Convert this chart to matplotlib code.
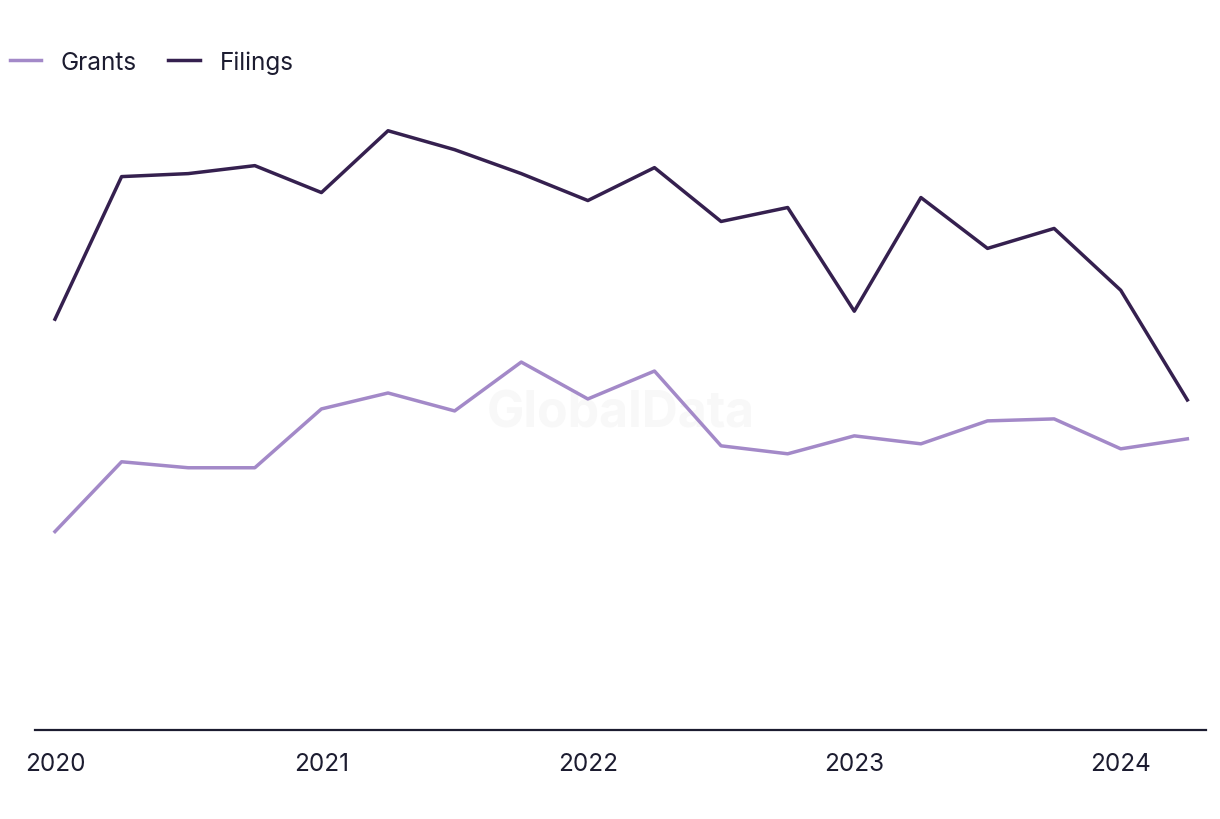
import matplotlib
matplotlib.use('Agg')
import matplotlib.pyplot as plt


QUARTERS = ['2020Q1', '2020Q2', '2020Q3', '2020Q4',
            '2021Q1', '2021Q2', '2021Q3', '2021Q4',
            '2022Q1', '2022Q2', '2022Q3', '2022Q4',
            '2023Q1', '2023Q2', '2023Q3', '2023Q4',
            '2024Q1', '2024Q2']
FILINGS = [412, 555, 558, 566, 539, 601, 582, 558, 531,
           564, 510, 524, 420, 534, 483, 503, 441, 331]
GRANTS = [199, 269, 263, 263, 322, 338, 320, 369, 332,
          360, 285, 277, 295, 287, 310, 312, 282, 292]
TICK_LABELS = ['2020', '2021', '2022', '2023', '2024']
TICK_POSITIONS = [0, 4, 8, 12, 16]

TEXT_COLOR = '#1c1c30'
GRANTS_COLOR = '#a389c8'
FILINGS_COLOR = '#35204f'

plt.rcParams['font.family'] = ['Inter', 'DejaVu Sans']

fig = plt.figure(figsize=(12.2, 8.2), dpi=100)
ax = fig.add_axes([35 / 1220, 89 / 820, (1206 - 35) / 1220, 690 / 820])

x = list(range(len(QUARTERS)))

# Watermark
ax.text(0.5, 0.46, 'GlobalData', transform=ax.transAxes, ha='center', va='center',
        fontsize=36, fontweight='bold', color='#f8f8f8', zorder=0)

ax.plot(x, GRANTS, color=GRANTS_COLOR, linewidth=2.5, label='Grants', zorder=3)
ax.plot(x, FILINGS, color=FILINGS_COLOR, linewidth=2.5, label='Filings', zorder=3)

ax.set_xlim(-0.3, 17.28)
ax.set_ylim(0, 692)

ax.set_xticks(TICK_POSITIONS)
ax.set_xticklabels(TICK_LABELS)
ax.tick_params(axis='x', length=0, pad=16, labelsize=17.5, colors=TEXT_COLOR)
ax.set_yticks([])

for side in ['top', 'right', 'left']:
    ax.spines[side].set_visible(False)
ax.spines['bottom'].set_color(TEXT_COLOR)
ax.spines['bottom'].set_linewidth(1.6)

leg = fig.legend(loc='upper left', bbox_to_anchor=(-0.006, 0.958), ncol=2, frameon=False,
                 fontsize=17.5, handlelength=1.3, handletextpad=0.8, columnspacing=1.3,
                 borderaxespad=0.3)
for text in leg.get_texts():
    text.set_color(TEXT_COLOR)

fig.savefig('out.png', dpi=100, facecolor='white')
